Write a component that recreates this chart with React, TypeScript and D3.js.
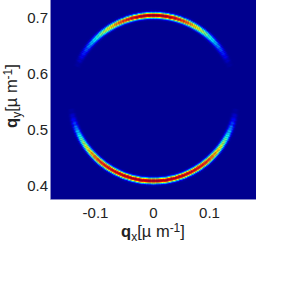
import React from "react";
import * as d3 from "d3";

// readings
const xTicks = [-0.1, 0, 0.1];
const yTicks = [0.4, 0.5, 0.6, 0.7];
const ringCentre = 0.555;
const ringRadius = 0.148;

// degrees away from the top / bottom of the ring
const upperAngles = [0, 3, 6, 9, 12, 15, 18, 21, 24, 27, 30, 33, 36, 39, 42, 45, 48, 51, 54, 57, 60, 63, 66];
const upperPeak = [0.97, 0.97, 0.96, 0.95, 0.93, 0.9, 0.87, 0.83, 0.79, 0.74, 0.68, 0.63, 0.57, 0.51, 0.44, 0.38, 0.32, 0.27, 0.21, 0.16, 0.11, 0.06, 0.02];
const lowerAngles = [0, 3, 6, 9, 12, 15, 18, 21, 24, 27, 30, 33, 36, 39, 42, 45, 48, 51, 54, 57, 60, 63, 66, 69, 72, 75, 78, 81];
const lowerPeak = [0.95, 0.95, 0.95, 0.95, 0.94, 0.94, 0.93, 0.93, 0.92, 0.91, 0.9, 0.89, 0.87, 0.85, 0.82, 0.78, 0.73, 0.68, 0.62, 0.55, 0.48, 0.41, 0.33, 0.26, 0.19, 0.13, 0.07, 0.02];

// band cross section, offset from ring radius in q units
const bandOffsets = [-0.009, -0.0072, -0.0054, -0.0036, -0.0018, 0, 0.0018, 0.0036, 0.0054, 0.0072, 0.009];
const bandProfile = [0.02, 0.11, 0.34, 0.66, 0.92, 1, 0.92, 0.66, 0.34, 0.11, 0.02];

const jet = d3
  .scaleLinear<string>()
  .domain([0, 0.125, 0.375, 0.625, 0.875, 1])
  .range(["#00008f", "#0000ff", "#00ffff", "#ffff00", "#ff0000", "#800000"])
  .clamp(true);

const x = d3.scaleLinear().domain([-0.183, 0.183]).range([51, 256]);
const y = d3.scaleLinear().domain([0.375, 0.7304]).range([199, 0]);

const font = "'Liberation Sans', Arial, sans-serif";
const step = (3 * Math.PI) / 180;
const bandStep = 0.0018;

type Cell = { d: string; fill: string };

function arcCells(angles: number[], peak: number[], base: number): Cell[] {
  const arc = d3.arc();
  const pxPerQ = x(1) - x(0);
  const cells: Cell[] = [];
  angles.forEach((deg, i) => {
    const sides = deg === 0 ? [0] : [deg, -deg];
    sides.forEach((s) => {
      const mid = base + (s * Math.PI) / 180;
      bandOffsets.forEach((off, j) => {
        const d = arc({
          innerRadius: (ringRadius + off - bandStep / 2) * pxPerQ,
          outerRadius: (ringRadius + off + bandStep / 2) * pxPerQ,
          startAngle: mid - step / 2 - 0.004,
          endAngle: mid + step / 2 + 0.004,
        });
        cells.push({ d: d as string, fill: jet(peak[i] * bandProfile[j]) });
      });
    });
  });
  return cells;
}

export default function App() {
  const cells = [...arcCells(upperAngles, upperPeak, 0), ...arcCells(lowerAngles, lowerPeak, Math.PI)];
  const cx = x(0);
  const cy = y(ringCentre);

  return (
    <svg width={299} height={306} style={{ position: "absolute", left: 0, top: 0, background: "#fff" }}>
      <defs>
        <clipPath id="plot">
          <rect x={51} y={0} width={205} height={199} />
        </clipPath>
        <filter id="soft" x="-10%" y="-10%" width="120%" height="120%">
          <feGaussianBlur stdDeviation="0.6" />
        </filter>
      </defs>

      <rect x={51} y={0} width={205} height={199} fill="#00008f" />
      <g clipPath="url(#plot)">
        <g transform={`translate(${cx},${cy})`} filter="url(#soft)">
          {cells.map((c, i) => (
            <path key={i} d={c.d} fill={c.fill} />
          ))}
        </g>
      </g>
      <line x1={50.5} x2={50.5} y1={0} y2={199.5} stroke="#8a8ac8" />
      <line x1={50.5} x2={256} y1={199.5} y2={199.5} stroke="#8a8ac8" />

      <g fontFamily={font} fontSize={15} fill="#222">
        {xTicks.map((t) => (
          <text key={t} x={t < 0 ? x(t) - 2 : x(t)} y={218} textAnchor="middle">
            {String(t)}
          </text>
        ))}
        {yTicks.map((t) => (
          <text key={t} x={48} y={y(t) + 5.5} textAnchor="end">
            {String(t)}
          </text>
        ))}
        <text x={153} y={237} textAnchor="middle" fontSize={16.5}>
          <tspan fontWeight="bold">q</tspan>
          <tspan fontSize={12} dy={4}>x</tspan>
          <tspan dy={-4}>[µ m</tspan>
          <tspan fontSize={12} dy={-5}>-1</tspan>
          <tspan dy={5}>]</tspan>
        </text>
        <text transform="translate(17,96) rotate(-90)" textAnchor="middle" fontSize={16.5}>
          <tspan fontWeight="bold">q</tspan>
          <tspan fontSize={12} dy={4}>y</tspan>
          <tspan dy={-4}>[µ m</tspan>
          <tspan fontSize={12} dy={-5}>-1</tspan>
          <tspan dy={5}>]</tspan>
        </text>
      </g>
    </svg>
  );
}
